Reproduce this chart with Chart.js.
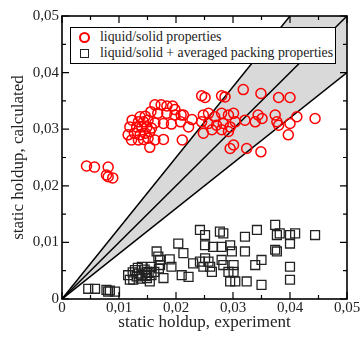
<!DOCTYPE html>
<html>
<head>
<meta charset="utf-8">
<script src="https://cdn.jsdelivr.net/npm/chart.js@4.4.1/dist/chart.umd.min.js"></script>
<style>
  body { margin: 0; background: #fff; }
  #wrap { position: relative; width: 362px; height: 337px; }
  #legend {
    position: absolute; left: 70px; top: 27px; width: 264px; height: 35px;
    border: 1px solid #000; background: #fff;
    font-family: "Liberation Serif", serif; font-size: 13.8px; color: #222;
  }
  .row { position: absolute; left: 0; height: 16px; line-height: 16px; white-space: nowrap; }
  .sym { position: absolute; box-sizing: border-box; }
  .circ { left: 8px; top: 3px; width: 11px; height: 11px; border: 2px solid #ff0000; border-radius: 50%; }
  .sq { left: 9px; top: 4px; width: 9px; height: 9px; border: 1.5px solid #222; }
  .lbl { position: absolute; left: 29px; top: 0; }
</style>
</head>
<body>
<div id="wrap">
  <canvas id="chart" width="362" height="337"></canvas>
  <div id="legend">
    <div class="row" style="top:1px"><span class="sym circ"></span><span class="lbl">liquid/solid properties</span></div>
    <div class="row" style="top:17px"><span class="sym sq"></span><span class="lbl">liquid/solid + averaged packing properties</span></div>
  </div>
</div>
<script>
// 红圈：liquid/solid properties
const redX = [0.0043, 0.0057, 0.0081, 0.0078, 0.0089, 0.0081,
  0.0163, 0.0174, 0.0184, 0.0194, 0.0168, 0.0184, 0.0198, 0.0209, 0.0156, 0.0146, 0.0137,
  0.0123, 0.0134, 0.0143, 0.0151, 0.0163, 0.0178, 0.0192, 0.0119, 0.0131, 0.0140, 0.0149,
  0.0157, 0.0116, 0.0127, 0.0137, 0.0146, 0.0154, 0.0122, 0.0134, 0.0143, 0.0151, 0.0163,
  0.0178, 0.0211, 0.0154, 0.0245, 0.0251, 0.0280, 0.0286, 0.0318, 0.0349, 0.0380, 0.0400,
  0.0198, 0.0213, 0.0228, 0.0208, 0.0222, 0.0248, 0.0257, 0.0268, 0.0280, 0.0292, 0.0301,
  0.0245, 0.0257, 0.0271, 0.0283, 0.0295, 0.0304, 0.0248, 0.0263, 0.0280, 0.0292, 0.0321,
  0.0339, 0.0344, 0.0351, 0.0374, 0.0377, 0.0380, 0.0400, 0.0412, 0.0444, 0.0397, 0.0295,
  0.0301, 0.0324, 0.0349];
const redY = [0.0235, 0.0233, 0.0233, 0.0219, 0.0214, 0.0216,
  0.0343, 0.0343, 0.0341, 0.0341, 0.0328, 0.0328, 0.0325, 0.0325, 0.0331, 0.0323, 0.0322,
  0.0316, 0.0313, 0.0313, 0.0316, 0.0311, 0.0310, 0.0309, 0.0304, 0.0304, 0.0304, 0.0304,
  0.0302, 0.0290, 0.0293, 0.0290, 0.0293, 0.0296, 0.0281, 0.0281, 0.0282, 0.0284, 0.0281,
  0.0282, 0.0281, 0.0268, 0.0359, 0.0356, 0.0359, 0.0357, 0.0370, 0.0363, 0.0356, 0.0356,
  0.0335, 0.0325, 0.0317, 0.0313, 0.0304, 0.0325, 0.0328, 0.0322, 0.0328, 0.0325, 0.0328,
  0.0313, 0.0310, 0.0307, 0.0310, 0.0304, 0.0313, 0.0293, 0.0299, 0.0299, 0.0296, 0.0316,
  0.0313, 0.0325, 0.0319, 0.0325, 0.0313, 0.0307, 0.0310, 0.0322, 0.0319, 0.0290, 0.0266,
  0.0272, 0.0266, 0.0260];

// 黑方块：liquid/solid + averaged packing properties
const blackX = [0.0046, 0.0058, 0.0078, 0.0084, 0.0093, 0.0081,
  0.0116, 0.0119, 0.0128, 0.0131, 0.0140, 0.0140, 0.0149, 0.0149, 0.0157, 0.0157, 0.0166,
  0.0169, 0.0172, 0.0178, 0.0189, 0.0192, 0.0204, 0.0213, 0.0210, 0.0222, 0.0242, 0.0251,
  0.0251, 0.0251, 0.0242, 0.0230, 0.0248, 0.0260, 0.0257, 0.0263, 0.0265, 0.0277, 0.0283,
  0.0280, 0.0280, 0.0283, 0.0295, 0.0298, 0.0301, 0.0292, 0.0301, 0.0295, 0.0304, 0.0324,
  0.0321, 0.0321, 0.0342, 0.0339, 0.0350, 0.0350, 0.0374, 0.0377, 0.0382, 0.0374, 0.0377,
  0.0400, 0.0400, 0.0409, 0.0400, 0.0400, 0.0444, 0.0172, 0.0154, 0.0125, 0.0135, 0.0145,
  0.0152, 0.0138, 0.0162, 0.0170, 0.0133, 0.0147, 0.0124];
const blackY = [0.0018, 0.0018, 0.0016, 0.0015, 0.0013, 0.0013,
  0.0042, 0.0034, 0.0051, 0.0040, 0.0057, 0.0042, 0.0048, 0.0037, 0.0057, 0.0042, 0.0084,
  0.0075, 0.0060, 0.0037, 0.0070, 0.0057, 0.0098, 0.0081, 0.0042, 0.0039, 0.0122, 0.0113,
  0.0095, 0.0072, 0.0066, 0.0063, 0.0057, 0.0057, 0.0066, 0.0048, 0.0092, 0.0119, 0.0116,
  0.0092, 0.0069, 0.0060, 0.0095, 0.0084, 0.0060, 0.0048, 0.0048, 0.0031, 0.0031, 0.0031,
  0.0110, 0.0084, 0.0122, 0.0060, 0.0069, 0.0025, 0.0131, 0.0113, 0.0116, 0.0087, 0.0084,
  0.0113, 0.0098, 0.0116, 0.0057, 0.0034, 0.0113, 0.0069, 0.0031, 0.0034, 0.0045, 0.0052,
  0.0046, 0.0036, 0.0048, 0.0054, 0.0055, 0.0041, 0.0047];

// 对角线斜率：+25%、1:1、-20%
const ratioSlopes = [1.25, 1, 0.8];
const axisRange = [0, 0.05];
const tickValues = [0, 0.01, 0.02, 0.03, 0.04, 0.05];

const fmt = v => v === 0 ? '0' : v.toFixed(2).replace('.', ',');
const toPts = (xs, ys) => xs.map((x, i) => ({ x: x, y: ys[i] }));

const lineSets = ratioSlopes.map((s, i) => ({
    data: axisRange.map(x => ({ x: x, y: s * x })),
    showLine: true,
    borderColor: '#000',
    borderWidth: 1.5,
    pointRadius: 0,
    fill: i === 0 ? 4 : false,
    backgroundColor: '#d9d9d9'
}));

// 内向刻度和边框
const frameTicks = {
    id: 'frameTicks',
    afterDraw(chart) {
        const { ctx, chartArea: a, scales: { x, y } } = chart;
        ctx.save();
        ctx.strokeStyle = '#000';
        ctx.lineWidth = 1.2;
        for (let k = 0; k <= 10; k++) {
            const v = k * 0.005;
            const len = k % 2 === 0 ? 7 : 4;
            const px = x.getPixelForValue(v);
            const py = y.getPixelForValue(v);
            ctx.beginPath();
            ctx.moveTo(px, a.bottom); ctx.lineTo(px, a.bottom - len);
            ctx.moveTo(px, a.top); ctx.lineTo(px, a.top + len);
            ctx.moveTo(a.left, py); ctx.lineTo(a.left + len, py);
            ctx.moveTo(a.right, py); ctx.lineTo(a.right - len, py);
            ctx.stroke();
        }
        ctx.lineWidth = 1.6;
        ctx.strokeRect(a.left, a.top, a.right - a.left, a.bottom - a.top);
        ctx.restore();
    }
};

const tickFont = { family: 'Liberation Serif', size: 15 };
const titleFont = { family: 'Liberation Serif', size: 17 };

new Chart(document.getElementById('chart'), {
    type: 'scatter',
    data: {
        datasets: [{
            data: toPts(redX, redY),
            pointStyle: 'circle',
            pointRadius: 5,
            borderColor: '#ff0000',
            borderWidth: 1.5,
            backgroundColor: 'rgba(0,0,0,0)'
        }, {
            data: toPts(blackX, blackY),
            pointStyle: 'rect',
            pointRadius: 6.3,
            borderColor: '#222',
            borderWidth: 1.3,
            backgroundColor: 'rgba(0,0,0,0)'
        }].concat(lineSets)
    },
    options: {
        responsive: false,
        animation: false,
        devicePixelRatio: 1,
        layout: { padding: { top: 16, right: 15, left: 0, bottom: 0 } },
        plugins: {
            legend: { display: false },
            tooltip: { enabled: false },
            filler: { drawTime: 'beforeDatasetsDraw' }
        },
        scales: {
            x: {
                type: 'linear', min: 0, max: 0.05,
                afterBuildTicks: s => { s.ticks = tickValues.map(v => ({ value: v })); },
                afterFit: s => { s.height = 38; },
                grid: { display: false, drawTicks: false, tickLength: 0 },
                border: { display: false },
                ticks: { callback: fmt, font: tickFont, color: '#222', padding: 0, maxRotation: 0 },
                title: { display: true, text: 'static holdup, experiment', font: titleFont, color: '#222', padding: { top: 0, bottom: 4 } }
            },
            y: {
                type: 'linear', min: 0, max: 0.05,
                afterBuildTicks: s => { s.ticks = tickValues.map(v => ({ value: v })); },
                afterFit: s => { s.width = 62; },
                grid: { display: false, drawTicks: false, tickLength: 0 },
                border: { display: false },
                ticks: { callback: fmt, font: tickFont, color: '#222', padding: 3 },
                title: { display: true, text: 'static holdup, calculated', font: titleFont, color: '#222', padding: { top: 8, bottom: 0 } }
            }
        }
    },
    plugins: [frameTicks]
});
</script>
</body>
</html>
